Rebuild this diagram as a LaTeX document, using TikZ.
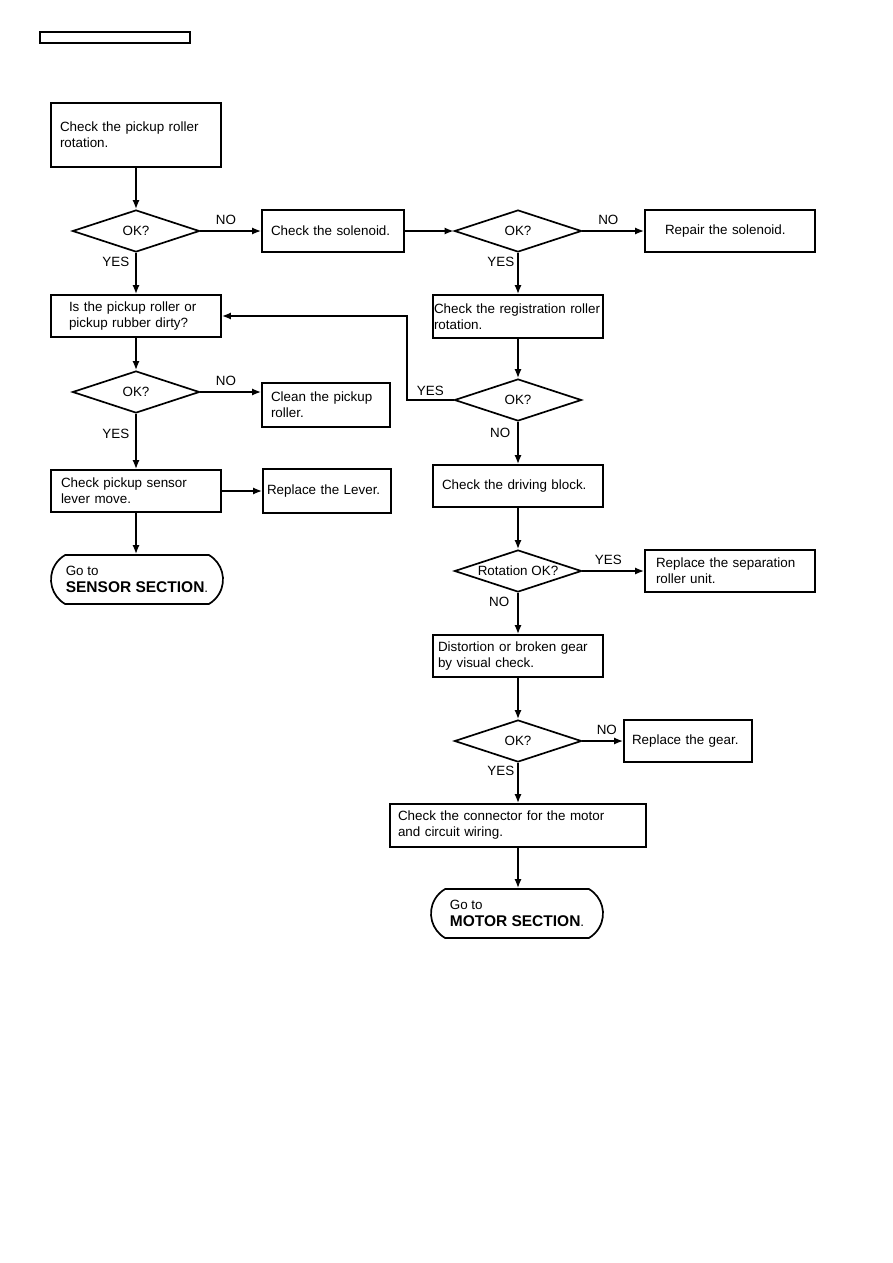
\documentclass[tikz,border=0pt]{standalone}
\usepackage{fontspec}
\setmainfont{Liberation Sans}
\usetikzlibrary{arrows.meta,positioning,shapes.geometric,shapes.misc}

\begin{document}
\begin{tikzpicture}[
  x=1pt, y=-1pt,
  box/.style={draw, line width=1.7pt, minimum height=42pt, align=left,
              inner xsep=9pt, inner ysep=0pt, font=\fontsize{13.4}{16}\selectfont},
  dec/.style={draw, diamond, aspect=3, line width=1.7pt, minimum width=127pt,
              minimum height=42pt, inner sep=0pt, font=\fontsize{13.4}{16}\selectfont},
  term/.style={draw, rounded rectangle, rounded rectangle arc length=120,
               line width=1.7pt, minimum width=172pt, minimum height=49pt,
               inner xsep=0pt, align=left, font=\fontsize{13.4}{17}\selectfont},
  lbl/.style={font=\fontsize{13.4}{16}\selectfont, inner sep=2pt},
  >={Latex[length=9pt,width=7pt]}, line width=1.6pt
]
  \useasboundingbox (0,0) rectangle (893,1263);

  \node[draw, line width=1.2pt, minimum width=150pt, minimum height=11pt, inner sep=0pt]
       (hdr) at (115,37.5) {};

  % left column
  \node[box, text width=152pt, minimum height=64pt] (pick) at (136,135)
       {Check the pickup roller\\rotation.};
  \node[dec] (ok1) at (136,231) {OK?};
  \node[box, text width=124pt] (sol) at (333,231) {Check the solenoid.};
  \node[box, inner xsep=18pt, text width=134pt] (dirty) at (136,316)
       {Is the pickup roller or\\pickup rubber dirty?};
  \node[dec] (ok3) at (136,392) {OK?};
  \node[box, text width=110pt, minimum height=44pt] (clean) at (326,405)
       {Clean the pickup\\roller.};
  \node[box, inner xsep=10pt, text width=150pt] (lever) at (136,491)
       {Check pickup sensor\\lever move.};
  \node[box, inner xsep=4pt, text width=120pt, minimum height=44pt] (rlev) at (327,491)
       {Replace the Lever.};
  \node[term] (sens) at (137,579.5)
       {Go to\\{\bfseries\fontsize{15.5}{18}\selectfont SENSOR SECTION}.};

  % right column
  \node[dec] (ok2) at (518,231) {OK?};
  \node[box, inner xsep=20pt, text width=130pt] (rsol) at (730,231) {Repair the solenoid.};
  \node[box, inner xsep=1pt, text width=168pt, minimum height=43pt] (reg) at (518,316.5)
       {Check the registration roller\\rotation.};
  \node[dec] (ok4) at (518,400) {OK?};
  \node[box, text width=152pt] (drive) at (518,486) {Check the driving block.};
  \node[dec] (rot) at (518,571) {Rotation OK?};
  \node[box, inner xsep=11pt, text width=148pt] (sep) at (730,571)
       {Replace the separation\\roller unit.};
  \node[box, inner xsep=5pt, text width=160pt] (gear) at (518,656)
       {Distortion or broken gear\\by visual check.};
  \node[dec] (ok5) at (518,741) {OK?};
  \node[box, inner xsep=8pt, text width=112pt] (rgear) at (688,741) {Replace the gear.};
  \node[box, inner xsep=8pt, text width=240pt, minimum height=43pt] (conn) at (518,825.5)
       {Check the connector for the motor\\and circuit wiring.};
  \node[term] (mot) at (517,913.5)
       {Go to\\{\bfseries\fontsize{15.5}{18}\selectfont MOTOR SECTION}.};

  \draw[->] (pick.south) -- (ok1.north);
  \draw[->] (ok1.east) -- (sol.west) node[lbl, pos=0.42, above=4pt]{NO};
  \draw[->] (sol.east) -- (ok2.west);
  \draw[->] (ok2.east) -- (rsol.west) node[lbl, pos=0.42, above=4pt]{NO};
  \draw[->] (ok1.south) -- (dirty.north) node[lbl, pos=0.23, left=4pt]{YES};
  \draw[->] (ok2.south) -- (reg.north) node[lbl, pos=0.23, left=1pt]{YES};
  \draw[->] (dirty.south) -- (ok3.north);
  \draw[->] (ok3.east) -- (ok3.east -| clean.west) node[lbl, pos=0.42, above=4pt]{NO};
  \draw[->] (ok3.south) -- (lever.north) node[lbl, pos=0.37, left=4pt]{YES};
  \draw[->] (lever.east) -- (lever.east -| rlev.west);
  \draw[->] (lever.south) -- (lever.south |- sens.north);

  % back to the dirty check
  \draw[->] (reg.south) -- (ok4.north);
  \draw[->] (ok4.west) -- ++(-46.5,0) node[lbl, midway, above=2pt]{YES} |- (dirty.east);

  \draw[->] (ok4.south) -- (drive.north) node[lbl, pos=0.25, left=5pt]{NO};
  \draw[->] (drive.south) -- (rot.north);
  \draw[->] (rot.east) -- (sep.west) node[lbl, pos=0.42, above=4pt]{YES};
  \draw[->] (rot.south) -- (gear.north) node[lbl, pos=0.23, left=6pt]{NO};
  \draw[->] (gear.south) -- (ok5.north);
  \draw[->] (ok5.east) -- (rgear.west) node[lbl, pos=0.6, above=4pt]{NO};
  \draw[->] (ok5.south) -- (conn.north) node[lbl, pos=0.21, left=1pt]{YES};
  \draw[->] (conn.south) -- (conn.south |- mot.north);
\end{tikzpicture}
\end{document}
